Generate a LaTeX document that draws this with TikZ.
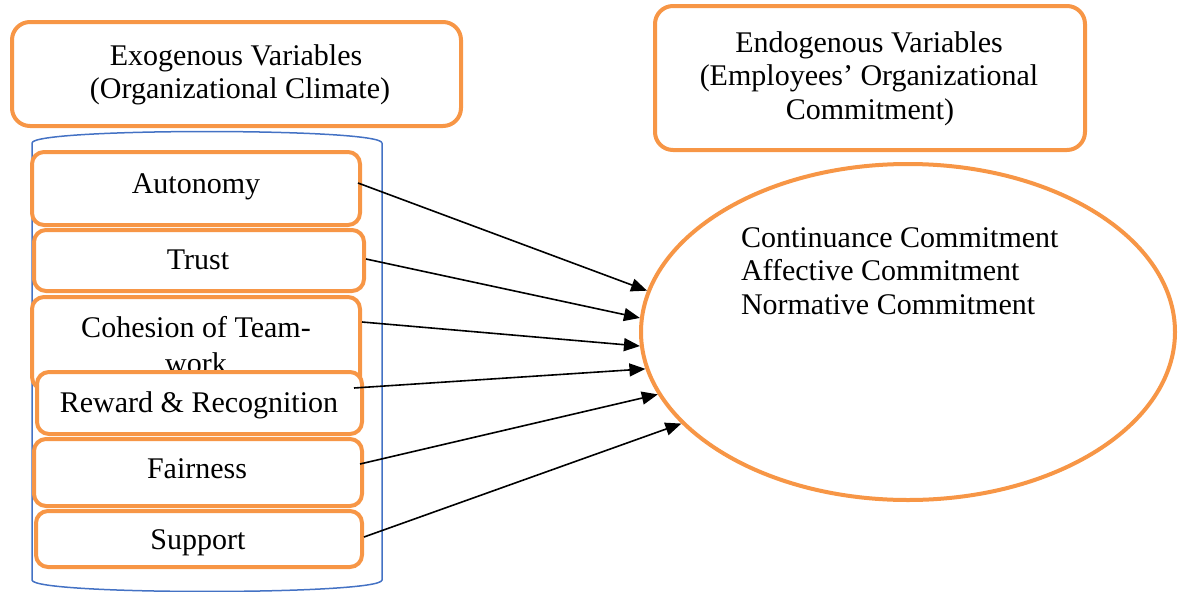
\documentclass[tikz,border=0pt]{standalone}
\usepackage{fontspec}
\setmainfont{Liberation Serif}
\usetikzlibrary{arrows.meta,shapes.geometric}
\definecolor{ora}{RGB}{247,150,70}
\definecolor{cylblue}{RGB}{68,114,196}
\begin{document}
\begin{tikzpicture}[x=1pt,y=-1pt,
  txt/.style={font=\fontsize{30}{34}\selectfont, inner sep=0pt, outer sep=0pt, anchor=base},
  txtl/.style={txt, anchor=base west},
  obox/.style={draw=ora, line width=4pt, rounded corners=12pt, fill=white, inner sep=0pt, outer sep=0pt},
  tbox/.style={obox, rounded corners=18pt},
  cyl/.style={draw=cylblue, line width=1.5pt},
  arr/.style={draw=black, line width=1.6pt, -{Triangle[length=16pt,width=13pt]}}]
\useasboundingbox (0,0) rectangle (1179,592);

% header boxes
\node[tbox, minimum width=449pt, minimum height=104pt] (exo) at (236.5,74) {};
\node[txt] (exo1) at (236,65) {Exogenous Variables};
\node[txt] (exo2) at (240,98) {(Organizational Climate)};

\node[tbox, minimum width=430pt, minimum height=144pt] (endo) at (870,78) {};
\node[txt] (endo1) at (869,52) {Endogenous Variables};
\node[txt] (endo2) at (869,85) {(Employees’ Organizational};
\node[txt] (endo3) at (870,119) {Commitment)};

% cylinder
\draw[cyl] (32,143) .. controls (32,127.7) and (382,127.7) .. (382,143);
\draw[cyl] (32,143) -- (32,580) .. controls (32,595.3) and (382,595.3) .. (382,580) -- (382,143);

% climate boxes
\node[obox, minimum width=328pt, minimum height=73pt] (auto) at (196,188.5) {};
\node[txt] (autoT) at (196,193) {Autonomy};

\node[obox, minimum width=330pt, minimum height=61pt] (trust) at (199,260.5) {};
\node[txt] (trustT) at (198,269) {Trust};

\node[obox, minimum width=328pt, minimum height=92pt] (coh) at (196,343) {};
\node[txt] (cohT1) at (196,337) {Cohesion of Team-};
\node[txt] (cohT2) at (196,373) {work};

\node[obox, minimum width=325pt, minimum height=62pt] (rew) at (199.5,403) {};
\node[txt] (rewT) at (199,412) {Reward \& Recognition};

\node[obox, minimum width=328pt, minimum height=67pt] (fair) at (198,472.5) {};
\node[txt] (fairT) at (197,478) {Fairness};

\node[obox, minimum width=326pt, minimum height=56pt] (sup) at (199,539) {};
\node[txt] (supT) at (198,549) {Support};

% outcome ellipse
\node[ellipse, draw=ora, line width=4pt, fill=white, inner sep=0pt, outer sep=2pt,
      minimum width=534pt, minimum height=336pt] (ell) at (908,332) {};
\node[txtl] (c1) at (741,247) {Continuance Commitment};
\node[txtl] (c2) at (741,280) {Affective Commitment};
\node[txtl] (c3) at (741,314) {Normative Commitment};

% arrows
\draw[arr] ([xshift=-2pt,yshift=5.5pt]auto.east) -- (ell.171.3);
\draw[arr] ([xshift=2pt,yshift=1.5pt]trust.east) -- (ell.177.9);
\draw[arr] ([xshift=2pt,yshift=21pt]coh.east) -- (ell.183.4);
\draw[arr] ([xshift=-8pt,yshift=15pt]rew.east) -- (ell.188.2);
\draw[arr] ([xshift=-2pt,yshift=8.5pt]fair.east) -- (ell.194.9);
\draw[arr] ([xshift=2pt,yshift=2pt]sup.east) -- (ell.202.1);
\end{tikzpicture}
\end{document}
